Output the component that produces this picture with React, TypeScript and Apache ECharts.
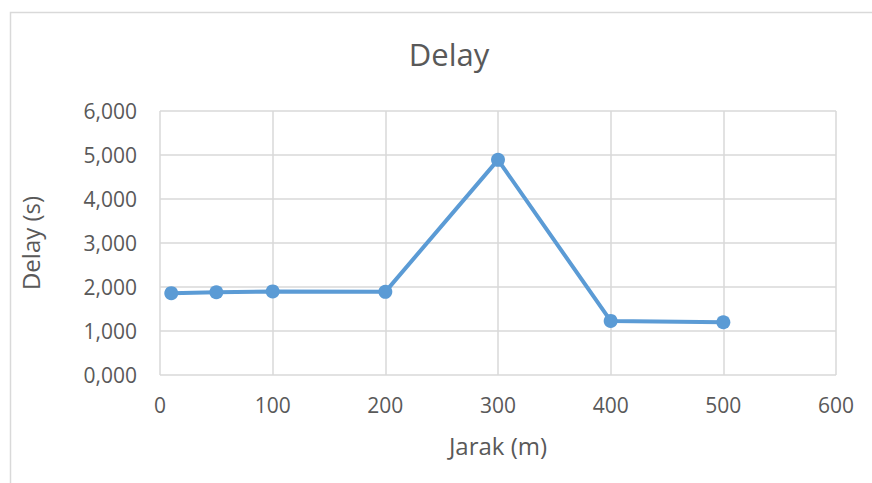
import React, { useEffect, useRef } from "react";
import * as echarts from "echarts";

const jarak = [10, 50, 100, 200, 300, 400, 500];
const delay = [1.86, 1.88, 1.90, 1.89, 4.89, 1.23, 1.20];
const chartTitle = "Delay";
const xName = "Jarak (m)";
const yName = "Delay (s)";

export default function App() {
  const ref = useRef<HTMLDivElement>(null);
  useEffect(() => {
    if (!ref.current) return;
    const chart = echarts.init(ref.current, null, { renderer: "svg" });
    const font = "Open Sans";
    chart.setOption({
      animation: false,
      backgroundColor: "#ffffff",
      title: {
        text: chartTitle,
        left: 444,
        top: 33,
        textAlign: "center",
        textStyle: { fontFamily: font, fontSize: 31, fontWeight: "normal", color: "#595959" },
      },
      graphic: [
        {
          type: "rect",
          shape: { x: 10.5, y: 12.5, width: 900, height: 500 },
          style: { fill: "none", stroke: "#d9d9d9", lineWidth: 1.5 },
          silent: true,
        },
      ],
      grid: { left: 160, right: 36, top: 111, bottom: 108 },
      xAxis: {
        type: "value",
        min: 0,
        max: 600,
        interval: 100,
        name: xName,
        nameLocation: "middle",
        nameGap: 58,
        nameTextStyle: { fontFamily: font, fontSize: 24, color: "#595959" },
        axisLine: { show: false },
        axisTick: { show: false },
        axisLabel: { fontFamily: font, fontSize: 21, color: "#595959", margin: 19 },
        splitLine: { show: true, lineStyle: { color: "#d9d9d9", width: 1.5 } },
      },
      yAxis: {
        type: "value",
        min: 0,
        max: 6,
        interval: 1,
        name: yName,
        nameLocation: "middle",
        nameGap: 118,
        nameTextStyle: { fontFamily: font, fontSize: 24, color: "#595959" },
        axisLine: { show: false },
        axisTick: { show: false },
        axisLabel: {
          fontFamily: font,
          fontSize: 21,
          color: "#595959",
          margin: 23,
          formatter: (v: number) => v.toFixed(3).replace(".", ","),
        },
        splitLine: { show: true, lineStyle: { color: "#d9d9d9", width: 1.5 } },
      },
      series: [
        {
          type: "line",
          data: jarak.map((x, i) => [x, delay[i]]),
          symbol: "circle",
          symbolSize: 14,
          lineStyle: { color: "#5b9bd5", width: 4 },
          itemStyle: { color: "#5b9bd5" },
        },
      ],
    });
    return () => chart.dispose();
  }, []);
  return (
    <div
      ref={ref}
      style={{ position: "fixed", left: 0, top: 0, width: 872, height: 483 }}
    />
  );
}
